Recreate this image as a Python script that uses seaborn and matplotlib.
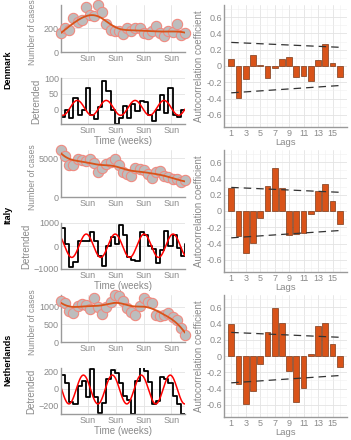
import numpy as np
import matplotlib
matplotlib.use("Agg")
import matplotlib.pyplot as plt
import seaborn as sns

sns.set_theme(style="white")
plt.rcParams['font.family'] = ['Liberation Sans', 'DejaVu Sans']

countries = ["Denmark", "Italy", "Netherlands"]
days = np.arange(31)

# daily cases
cases_dk = [157, 200, 186, 286, 250, 271, 380, 314, 300, 395, 334, 237, 186, 180, 175, 149,
            200, 180, 200, 200, 160, 150, 175, 220, 160, 135, 175, 165, 233, 140, 158]
cases_it = [6090, 5350, 4130, 4130, 4900, 4780, 4650, 4900, 4350, 3175, 3780, 4220, 4480, 4900,
            4130, 3175, 3045, 2740, 3700, 3610, 3480, 3045, 2480, 3175, 3350, 2740, 2600, 2390,
            2300, 1955, 2170]
cases_nl = [1170, 1095, 885, 828, 1020, 1075, 1040, 923, 1240, 980, 790, 980, 1140, 1333, 1305,
            1170, 952, 857, 760, 1020, 1240, 1140, 1095, 760, 733, 760, 828, 714, 620, 410, 190]

# detrended series (stairs)
detr_dk = [-23, -2, -28, 37, -18, 0, 69, -18, -31, 8, 92, 58, -2, -46, -28, 10, -28, 16, -5,
           26, 24, -18, -35, 0, 45, -12, 69, -18, -25, -2, -2]
detr_it = [785, 100, -930, -700, 220, 220, 220, 590, 220, -440, -890, 0, 370, 100, 920, 490,
           -490, -590, -670, 590, 490, 0, -150, -740, -190, 640, 0, 490, -100, -440, 100]
detr_nl = [160, 64, -160, -176, 32, 92, -96, 232, -100, -280, -168, 120, 224, 192, 72, -80,
           -128, -296, 92, 252, 212, 80, -176, -148, 144, 120, 64, -80, -176, -296, -296]

# autocorrelation
lags = np.arange(1, 17)
acf_dk = [0.08, -0.39, -0.16, 0.13, 0.01, -0.15, -0.02, 0.09, 0.11, -0.13, -0.12, -0.18,
          0.07, 0.27, 0.04, -0.14]
acf_it = [0.28, -0.31, -0.52, -0.39, -0.09, 0.31, 0.53, 0.28, -0.30, -0.28, -0.27, -0.04,
          0.25, 0.33, 0.12, -0.16]
acf_nl = [0.39, -0.34, -0.59, -0.43, -0.10, 0.29, 0.59, 0.40, -0.19, -0.57, -0.39, 0.02,
          0.37, 0.40, 0.15, -0.13]
bound_lags = [1, 6, 11, 16]
upper_bound = [0.29, 0.27, 0.25, 0.23]
lower_bound = [-0.33, -0.30, -0.27, -0.24]

cases_all = [cases_dk, cases_it, cases_nl]
detr_all = [detr_dk, detr_it, detr_nl]
acf_all = [acf_dk, acf_it, acf_nl]

case_ticks = [[0, 200], [0, 5000], [0, 500, 1000]]
detr_lims = [(-46, 100), (-1000, 1000), (-296, 245)]
detr_ticks = [[0, 50, 100], [-1000, 0, 1000], [-200, 0, 200]]
sun_ticks = [6.5, 13.3, 20.0, 26.7]

grey_txt = "#8a8a8a"
spine_c = "#9a9a9a"
orange = "#D95319"


def smooth(x, y, bw=2.5):
    # local linear kernel smoother for the trend line
    xs = np.linspace(x.min(), x.max(), 200)
    ys = []
    for x0 in xs:
        w = np.exp(-0.5 * ((x - x0) / bw) ** 2)
        ys.append(np.polyfit(x - x0, y, 1, w=np.sqrt(w))[1])
    return xs, np.array(ys)


def weekly_fit(x, y):
    # least squares sinusoid with a 7-day period
    A = np.column_stack([np.sin(2 * np.pi * x / 7), np.cos(2 * np.pi * x / 7), np.ones_like(x)])
    coef = np.linalg.lstsq(A, y, rcond=None)[0]
    xs = np.linspace(x.min(), x.max(), 300)
    B = np.column_stack([np.sin(2 * np.pi * xs / 7), np.cos(2 * np.pi * xs / 7), np.ones_like(xs)])
    return xs, B @ coef


def style(ax):
    for s in ["top", "right"]:
        ax.spines[s].set_visible(False)
    for s in ["left", "bottom"]:
        ax.spines[s].set_color(spine_c)
        ax.spines[s].set_linewidth(1.0)
    ax.tick_params(colors=grey_txt, labelsize=6.5, length=0, pad=1.5)
    ax.grid(True, color="#e3e3e3", linewidth=0.6)
    ax.set_axisbelow(True)


W, H = 351, 440
fig = plt.figure(figsize=(W / 100, H / 100), dpi=100)


def px_axes(x0, y0, x1, y1):
    return fig.add_axes([x0 / W, 1 - y1 / H, (x1 - x0) / W, (y1 - y0) / H])


for r, name in enumerate(countries):
    off = 145 * r
    cases = np.array(cases_all[r], dtype=float)
    detr = np.array(detr_all[r], dtype=float)

    # cases + trend
    ax = px_axes(61, 5 + off, 185, 52 + off)
    style(ax)
    sns.scatterplot(x=days, y=cases, ax=ax, s=55, color="#bdbdbd", edgecolor="#f08a80",
                    linewidth=0.8, clip_on=False, zorder=3)
    tx, ty = smooth(days.astype(float), cases)
    sns.lineplot(x=tx, y=ty, ax=ax, color=orange, linewidth=1.3, zorder=4)
    ax.set_xlim(0, 30)
    ax.set_ylim(0, cases.max())
    ax.set_xticks(sun_ticks)
    ax.set_xticklabels(["Sun"] * 4)
    ax.set_yticks(case_ticks[r])
    ax.set_ylabel("Number of cases", color=grey_txt, fontsize=6.2)
    ax.yaxis.set_label_coords(-0.19, 0.42)

    # detrended + weekly sinusoid
    ax2 = px_axes(61, 78 + off, 185, 124 + off)
    style(ax2)
    sns.lineplot(x=days, y=detr, ax=ax2, color="black", linewidth=1.3,
                 drawstyle="steps-post", estimator=None)
    fx, fy = weekly_fit(days.astype(float), detr)
    sns.lineplot(x=fx, y=fy, ax=ax2, color="red", linewidth=1.1)
    ax2.set_xlim(0, 30)
    ax2.set_ylim(*detr_lims[r])
    ax2.set_xticks(sun_ticks)
    ax2.set_xticklabels(["Sun"] * 4)
    ax2.set_yticks(detr_ticks[r])
    ax2.set_ylabel("Detrended", color=grey_txt, fontsize=7, labelpad=2)
    ax2.set_xlabel("Time (weeks)", color=grey_txt, fontsize=7, labelpad=0.5)

    # autocorrelation
    ax3 = px_axes(224, 5 + off, 347, 127 + off)
    style(ax3)
    ax3.minorticks_on()
    ax3.grid(True, which="minor", color="#efefef", linewidth=0.4)
    ax3.tick_params(which="minor", length=0)
    sns.barplot(x=lags, y=acf_all[r], ax=ax3, native_scale=True, color=orange,
                saturation=1, edgecolor="#7a3a1a", linewidth=0.5, width=0.8, zorder=3)
    sns.lineplot(x=bound_lags, y=upper_bound, ax=ax3, color="#333333", linewidth=0.9,
                 dashes=(6, 4), zorder=4)
    sns.lineplot(x=bound_lags, y=lower_bound, ax=ax3, color="#333333", linewidth=0.9,
                 dashes=(6, 4), zorder=4)
    ax3.set_xlim(0, 17)
    ax3.set_ylim(-0.75, 0.75)
    ax3.set_xticks(range(1, 17, 2))
    ax3.set_xticks(range(0, 18), minor=True)
    ax3.set_yticks(np.round(np.arange(-0.6, 0.61, 0.2), 1))
    ax3.set_yticks(np.round(np.arange(-0.7, 0.71, 0.1), 1), minor=True)
    ax3.set_yticklabels(["-0.6", "-0.4", "-0.2", "0", "0.2", "0.4", "0.6"])
    ax3.set_ylabel("Autocorrelation coefficient", color=grey_txt, fontsize=7, labelpad=2)
    ax3.set_xlabel("Lags", color=grey_txt, fontsize=6.8, labelpad=0)

    fig.text(8 / W, 1 - (70 + off) / H, name, rotation=90, ha="center", va="center",
             fontsize=6.5, color="black", fontweight="bold")

fig.savefig("out.png", dpi=100)
